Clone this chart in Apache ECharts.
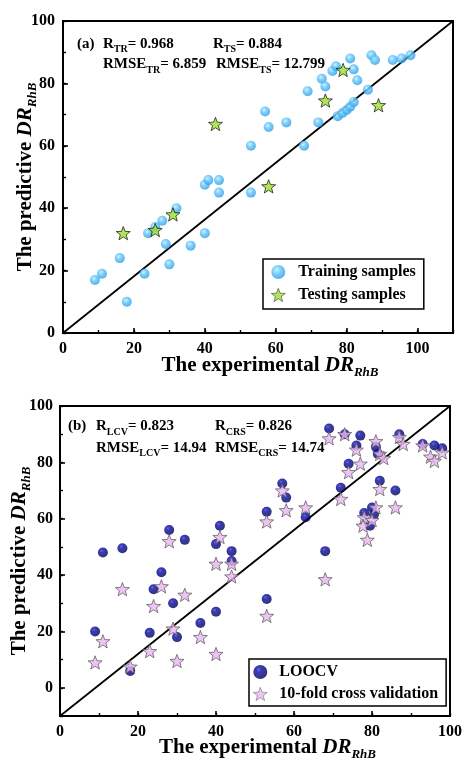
<!DOCTYPE html>
<html><head><meta charset="utf-8">
<script src="https://cdn.jsdelivr.net/npm/echarts@6/dist/echarts.min.js"></script>
<style>html,body{margin:0;padding:0;background:#fff}#c{width:465px;height:762px}</style>
</head><body><div id="c"></div>
<script>
// ---------- data ----------
const trainingSamples = [
  [9,17],[11,19],[16,24],[18,10],[23,19],[24,32],[26,34],[28,36],[29,28.5],[30,22],
  [32,40],[36,28],[40,32],[40,47.5],[41,49],[44,49],[44,45],[53,45],[53,60],[57,71],
  [58,66],[63,67.5],[68,60],[69,77.5],[72,67.5],[73,81.5],[74,79],[76,84],[77,85.5],
  [77.5,69.5],[78.8,70.5],[80,71.5],[81,72.5],[82,74],[81,88],[82,84.5],[83,81],
  [86,78],[87,89],[88,87.5],[93,87.5],[95.5,88],[98,89]
];
const testingSamples = [[17,32],[26,33],[31,38],[43,67],[58,47],[74,74.5],[79,84.3],[89,73]];
const loocv = [
  [9,20],[11,48],[16,49.5],[18,6],[23,19.5],[24,35],[26,41],[28,56],[29,30],[30,18],
  [32,52.5],[36,23],[40,27],[40,51],[41,57.5],[44,48.5],[44,45],[53,31.5],[53,62.5],
  [57,72.5],[58,67.5],[63,60.5],[68,48.5],[69,92],[72,71],[73,90],[74,79.5],[76,86],
  [77,89.5],[78,62],[79.5,57.5],[80,64],[80.5,61.5],[81,85.5],[81.5,83],[82,73.5],
  [86,70],[87,90],[93,86.5],[96,86],[98,85]
];
const tenFold = [
  [9,9],[11,16.5],[16,35],[18,7.5],[23,13],[24,29],[26,36],[28,52],[29,21],[30,9.5],
  [32,33],[36,18],[40,12],[40,44],[41,53.5],[44,44],[44,39.5],[53,25.5],[53,59],
  [57,70],[58,63],[63,64],[68,38.5],[69,88.5],[72,67],[73,90],[74,76.5],[76,84.5],
  [77,79.5],[78,60.5],[77.7,57.5],[78.8,52.5],[80,59.5],[81,64],[81,87.5],[82,83],
  [83,81.5],[82,70.5],[86,64],[87,89],[88,86.5],[93,86],[95,82],[96,80.5],[98,83.5]
];
const topDiagonal = [[0,0],[110,100]];
const bottomDiagonal = [[0,-10],[100,100]];
const tickValues = [0,20,40,60,80,100];
const topStats = ['0.968','6.859','0.884','12.799'];
const bottomStats = ['0.823','14.94','0.826','14.74'];

// ---------- styles ----------
const FONT = '"Liberation Serif","Times New Roman",serif';
function starPath(){
  let d='';
  for(let i=0;i<10;i++){
    const r = i%2===0?50:21, a=-Math.PI/2+i*Math.PI/5;
    d += (i===0?'M':'L')+(50+r*Math.cos(a)).toFixed(2)+' '+(50+r*Math.sin(a)).toFixed(2);
  }
  return 'path://'+d+'Z';
}
const STAR = starPath();
const lightSphere = {type:'radial',x:0.4,y:0.35,r:0.65,colorStops:[
  {offset:0,color:'#c4ecff'},{offset:0.45,color:'#5cc2fa'},{offset:1,color:'#2f9de6'}]};
const navySphere = {type:'radial',x:0.38,y:0.33,r:0.7,colorStops:[
  {offset:0,color:'#4848e0'},{offset:0.25,color:'#0a0aa6'},{offset:1,color:'#000050'}]};

const nameRich = {
  n:{fontFamily:FONT,fontWeight:'bold',fontSize:21,lineHeight:26,color:'#000',verticalAlign:'middle'},
  i:{fontFamily:FONT,fontWeight:'bold',fontStyle:'italic',fontSize:21,lineHeight:26,color:'#000',verticalAlign:'middle'},
  s:{fontFamily:FONT,fontWeight:'bold',fontStyle:'italic',fontSize:13,lineHeight:10,color:'#000',verticalAlign:'bottom'}
};
const labelStyle = {fontFamily:FONT,fontWeight:'bold',fontSize:16,color:'#000'};

function mainAxis(grid,min,max,name,gap,margin,pad){
  return {
    type:'value',gridIndex:grid,min:min,max:max,
    name:name,nameLocation:'middle',nameGap:gap,nameMoveOverlap:false,
    nameTextStyle:{rich:nameRich,padding:pad},
    axisLine:{show:true,onZero:false,lineStyle:{color:'#000',width:2}},
    axisTick:{show:true,inside:true,length:5,customValues:tickValues,lineStyle:{color:'#000',width:1.6}},
    axisLabel:Object.assign({customValues:tickValues,margin:margin},labelStyle),
    splitLine:{show:false}
  };
}
function minorAxis(grid,min,max,pos){
  return {
    type:'value',gridIndex:grid,min:min,max:max,interval:10,position:pos,
    axisLine:{show:false,onZero:false},axisLabel:{show:false},splitLine:{show:false},
    axisTick:{show:true,inside:true,length:3,lineStyle:{color:'#000',width:1.4}}
  };
}
const xName = '{n|The experimental }{i|DR}{s|RhB}';
const yName = '{n|The predictive }{i|DR}{s|RhB}';

const annotRich = {
  m:{fontFamily:FONT,fontWeight:'bold',fontSize:15,lineHeight:22,color:'#000',verticalAlign:'middle'},
  s:{fontFamily:FONT,fontWeight:'bold',fontSize:10,lineHeight:12,color:'#000',verticalAlign:'bottom'}
};
function annot(text,x,baseline){
  return {type:'text',left:x,top:baseline-13,z:100,style:{text:text,rich:annotRich}};
}

const option = {
  animation:false,
  backgroundColor:'#fff',
  grid:[
    {left:63,top:21,width:390,height:312,show:true,borderColor:'#000',borderWidth:2,backgroundColor:'transparent'},
    {left:60,top:406,width:392,height:315,show:true,borderColor:'#000',borderWidth:2,backgroundColor:'transparent'}
  ],
  xAxis:[
    mainAxis(0,0,110,xName,20,8,[0,0,0,24]),
    minorAxis(0,0,110,'bottom'),
    mainAxis(1,0,100,xName,19,8,[0,0,0,25]),
    minorAxis(1,0,100,'bottom')
  ],
  yAxis:[
    mainAxis(0,0,100,yName,24,8,[0,0,0,0]),
    minorAxis(0,0,100,'left'),
    mainAxis(1,-10,100,yName,27,7,[0,0,0,0]),
    minorAxis(1,-10,100,'left')
  ],
  legend:[
    {data:['Training samples','Testing samples'],left:263,top:259,orient:'vertical',
     borderColor:'#000',borderWidth:1.5,backgroundColor:'#fff',padding:[5,8,6,8],
     itemGap:7,itemWidth:14,itemHeight:14,itemStyle:{borderWidth:0.6},
     textStyle:{fontFamily:FONT,fontWeight:'bold',fontSize:16,color:'#000',padding:[0,0,0,8]}},
    {data:['LOOCV','10-fold cross validation'],left:249,top:659,orient:'vertical',
     borderColor:'#000',borderWidth:1.5,backgroundColor:'#fff',padding:[5,8,4,4],
     itemGap:6,itemWidth:14,itemHeight:14,itemStyle:{borderWidth:0.6},
     textStyle:{fontFamily:FONT,fontWeight:'bold',fontSize:16,color:'#000',padding:[0,0,0,7]}}
  ],
  graphic:[
    annot('{m|(a)}',77,49.3),
    annot('{m|R}{s|TR}{m|= '+topStats[0]+'}',103,49.3),
    annot('{m|RMSE}{s|TR}{m|= '+topStats[1]+'}',103,70),
    annot('{m|R}{s|TS}{m|= '+topStats[2]+'}',213,49.3),
    annot('{m|RMSE}{s|TS}{m|= '+topStats[3]+'}',216,70),
    annot('{m|(b)}',68,431.7),
    annot('{m|R}{s|LCV}{m|= '+bottomStats[0]+'}',96,431.7),
    annot('{m|RMSE}{s|LCV}{m|= '+bottomStats[1]+'}',96,453.3),
    annot('{m|R}{s|CRS}{m|= '+bottomStats[2]+'}',215,431.7),
    annot('{m|RMSE}{s|CRS}{m|= '+bottomStats[3]+'}',215,453.3)
  ],
  series:[
    {type:'line',xAxisIndex:0,yAxisIndex:0,data:topDiagonal,symbol:'none',silent:true,
     lineStyle:{color:'#000',width:1.8},z:1},
    {name:'Training samples',type:'scatter',xAxisIndex:0,yAxisIndex:0,data:trainingSamples,
     symbol:'circle',symbolSize:10,itemStyle:{color:lightSphere},z:2},
    {name:'Testing samples',type:'scatter',xAxisIndex:0,yAxisIndex:0,data:testingSamples,
     symbol:STAR,symbolKeepAspect:true,symbolSize:14,itemStyle:{color:'#9ae02e',borderColor:'#111',borderWidth:0.9},z:3},
    {type:'line',xAxisIndex:2,yAxisIndex:2,data:bottomDiagonal,symbol:'none',silent:true,
     lineStyle:{color:'#000',width:1.8},z:1},
    {name:'LOOCV',type:'scatter',xAxisIndex:2,yAxisIndex:2,data:loocv,
     symbol:'circle',symbolSize:10,itemStyle:{color:navySphere},z:2},
    {name:'10-fold cross validation',type:'scatter',xAxisIndex:2,yAxisIndex:2,data:tenFold,
     symbol:STAR,symbolKeepAspect:true,symbolSize:14,itemStyle:{color:'#e9b5f0',borderColor:'#555',borderWidth:0.9},z:3}
  ]
};
const chart = echarts.init(document.getElementById('c'),null,{renderer:'canvas'});
chart.setOption(option);
</script></body></html>
